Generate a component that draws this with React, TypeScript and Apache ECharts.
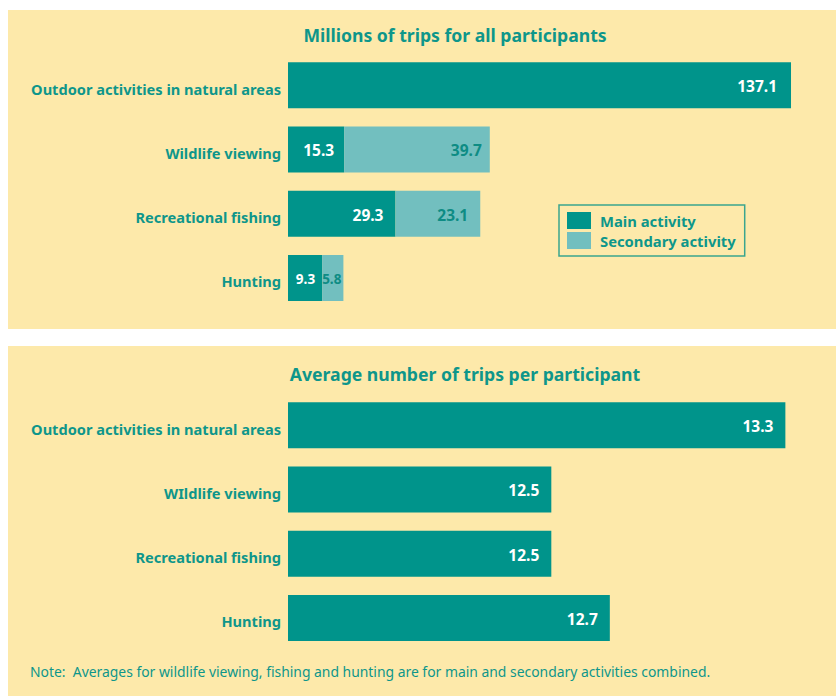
import React, { useEffect, useRef } from "react";
import * as echarts from "echarts";

const categoriesTop = ["Outdoor activities in natural areas", "Wildlife viewing", "Recreational fishing", "Hunting"];
const mainTrips = [137.1, 15.3, 29.3, 9.3];
const secondaryTrips = [null, 39.7, 23.1, 5.8];

const categoriesBottom = ["Outdoor activities in natural areas", "WIldlife viewing", "Recreational fishing", "Hunting"];
const avgTrips = [13.3, 12.5, 12.5, 12.7];

const titleTop = "Millions of trips for all participants";
const titleBottom = "Average number of trips per participant";
const noteText = "Note:  Averages for wildlife viewing, fishing and hunting are for main and secondary activities combined.";

const TEAL = "#00948B";
const LIGHT = "#72BFBF";
const TEXT = "#0E968A";
const BG = "#FDE9AA";
const FONT = "'Noto Sans', sans-serif";

export default function App() {
  const ref = useRef<HTMLDivElement>(null);
  useEffect(() => {
    document.body.style.margin = "0";
    const chart = echarts.init(ref.current!, null, { renderer: "svg" });
    const yAxisCommon = {
      type: "category" as const,
      inverse: true,
      axisLine: { show: false },
      axisTick: { show: false },
      axisLabel: {
        margin: 7,
        formatter: (v: string) => `{c|${v}}`,
        rich: {
          c: {
            color: TEXT,
            fontWeight: "bold" as const,
            fontSize: 14.6,
            fontFamily: FONT,
            padding: [7, 0, 0, 0],
          },
        },
      },
    };
    const valueLabel = {
      show: true,
      position: "insideRight" as const,
      distance: 10,
      offset: [0, 1],
      fontWeight: "bold" as const,
      fontSize: 15.5,
      fontFamily: FONT,
    };
    chart.setOption({
      animation: false,
      backgroundColor: "#ffffff",
      textStyle: { fontFamily: FONT },
      graphic: [
        { type: "rect", z: -10, shape: { x: 8, y: 10, width: 828, height: 319 }, style: { fill: BG } },
        { type: "rect", z: -10, shape: { x: 8, y: 346, width: 828, height: 350 }, style: { fill: BG } },
        {
          type: "text", x: 455, y: 35,
          style: { text: titleTop, fill: TEXT, font: `bold 17.6px ${FONT}`, textAlign: "center", textVerticalAlign: "middle" },
        },
        {
          type: "text", x: 465, y: 374,
          style: { text: titleBottom, fill: TEXT, font: `bold 17.6px ${FONT}`, textAlign: "center", textVerticalAlign: "middle" },
        },
        {
          type: "text", x: 30, y: 671,
          style: { text: noteText, fill: TEXT, font: `13.9px ${FONT}`, textAlign: "left", textVerticalAlign: "middle" },
        },
      ],
      legend: {
        data: ["Main activity", "Secondary activity"],
        orient: "vertical",
        left: 559,
        top: 205,
        itemWidth: 24,
        itemHeight: 17,
        itemGap: 3,
        padding: [7, 9, 7, 8],
        borderColor: "#3AA58F",
        borderWidth: 1.5,
        borderRadius: 0,
        icon: "rect",
        textStyle: { color: TEXT, fontWeight: "bold", fontSize: 14.8, fontFamily: FONT, padding: [0, 0, 0, 4] },
      },
      grid: [
        { left: 288, top: 53, width: 512, height: 257 },
        { left: 288, top: 393, width: 512, height: 257 },
      ],
      xAxis: [
        { gridIndex: 0, type: "value", min: 0, max: 139.55, show: false, splitLine: { show: false } },
        { gridIndex: 1, type: "value", min: 11.6, max: 13.35, show: false, splitLine: { show: false } },
      ],
      yAxis: [
        { ...yAxisCommon, gridIndex: 0, data: categoriesTop },
        { ...yAxisCommon, gridIndex: 1, data: categoriesBottom },
      ],
      series: [
        {
          name: "Main activity",
          type: "bar",
          stack: "top",
          xAxisIndex: 0,
          yAxisIndex: 0,
          barWidth: 46,
          itemStyle: { color: TEAL },
          data: mainTrips.map((v, i) =>
            i === 0
              ? { value: v, label: { distance: 14 } }
              : i === 2
              ? { value: v, label: { distance: 12 } }
              : i === 3
              ? { value: v, label: { fontSize: 13.5, distance: 7 } }
              : v
          ),
          label: {
            ...valueLabel,
            color: "#ffffff",
            formatter: (p: any) => p.value.toFixed(1),
          },
        },
        {
          name: "Secondary activity",
          type: "bar",
          stack: "top",
          xAxisIndex: 0,
          yAxisIndex: 0,
          barWidth: 46,
          itemStyle: { color: LIGHT },
          data: secondaryTrips.map((v, i) =>
            i === 2
              ? { value: v, label: { distance: 12 } }
              : i === 3
              ? { value: v, label: { fontSize: 13.5, distance: 2 } }
              : v
          ),
          label: {
            ...valueLabel,
            distance: 8,
            color: "#0E8C84",
            formatter: (p: any) => (p.value == null ? "" : p.value.toFixed(1)),
          },
        },
        {
          name: "Average trips",
          type: "bar",
          xAxisIndex: 1,
          yAxisIndex: 1,
          barWidth: 46,
          itemStyle: { color: TEAL },
          data: avgTrips,
          label: {
            ...valueLabel,
            distance: 12,
            color: "#ffffff",
            formatter: (p: any) => p.value.toFixed(1),
          },
        },
      ],
    });
    return () => chart.dispose();
  }, []);
  return <div ref={ref} style={{ width: 836, height: 696, position: "absolute", left: 0, top: 0 }} />;
}
